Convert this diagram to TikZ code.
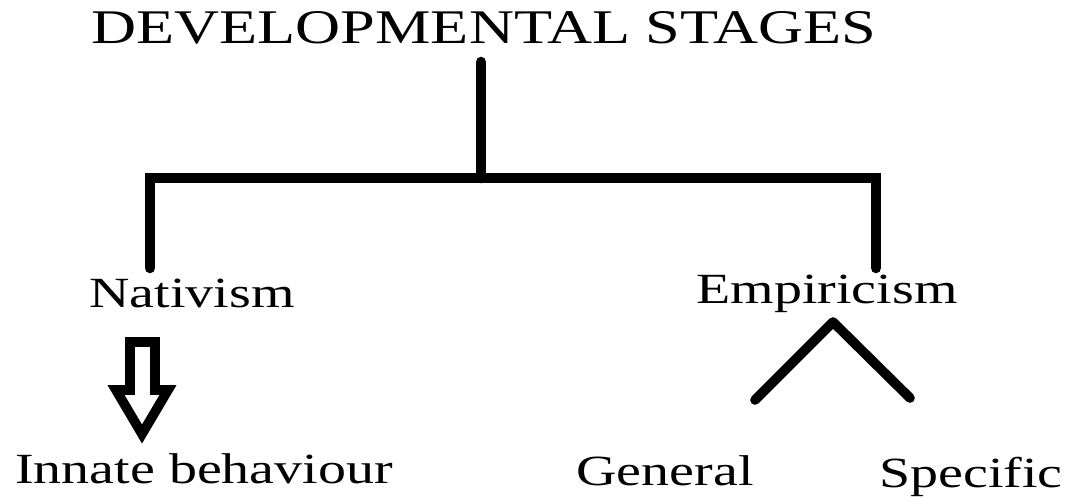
\documentclass[tikz,border=0pt]{standalone}
\usepackage{fontspec}
\setmainfont{Liberation Serif}
\usetikzlibrary{positioning}

\tikzset{
  heading/.style={anchor=base, inner sep=0pt, font=\fontsize{27.5}{30}\selectfont, xscale=1.29},
  label/.style={anchor=base, inner sep=0pt, font=\fontsize{24.5}{28}\selectfont, xscale=1.3},
  branch/.style={line width=6pt, line cap=round, line join=miter},
}

\begin{document}
\begin{tikzpicture}[x=0.02cm, y=-0.02cm]
    \useasboundingbox (0,0) rectangle (1066,501);

    % Title
    \node[heading] (stages) at (484,43) {DEVELOPMENTAL STAGES};

    % Tree below the title
    \coordinate (stem) at (481,62);
    \coordinate (hub) at (481,178);
    \coordinate (leftcorner) at (150,178);
    \coordinate (rightcorner) at (876,178);
    \coordinate (leftend) at (150,268);
    \coordinate (rightend) at (876,268);
    \draw[branch] (stem) -- (hub);
    \draw[branch] (leftend) -- (leftcorner) -- (rightcorner) -- (rightend);

    % Nativism
    \node[label] (nativism) at (192,307) {Nativism};

    % Hollow arrow down to innate behaviour
    \draw[line width=5.5pt, line join=miter]
        (130,342) -- (155,342) -- (155,390) -- (168,390) -- (142,434)
        -- (116,390) -- (130,390) -- cycle;
    \node[label] (innate) at (204,483) {Innate behaviour};

    % Empiricism
    \node[label] (empiricism) at (827,303) {Empiricism};

    % Split into general and specific
    \coordinate (apex) at (833,322);
    \coordinate (leftfoot) at (755,400);
    \coordinate (rightfoot) at (910,398);
    \draw[line width=5.5pt, line cap=round, line join=round] (leftfoot) -- (apex) -- (rightfoot);
    \node[label] (general) at (665,485) {General};
    \node[label] (specific) at (971,487) {Specific};

\end{tikzpicture}
\end{document}
